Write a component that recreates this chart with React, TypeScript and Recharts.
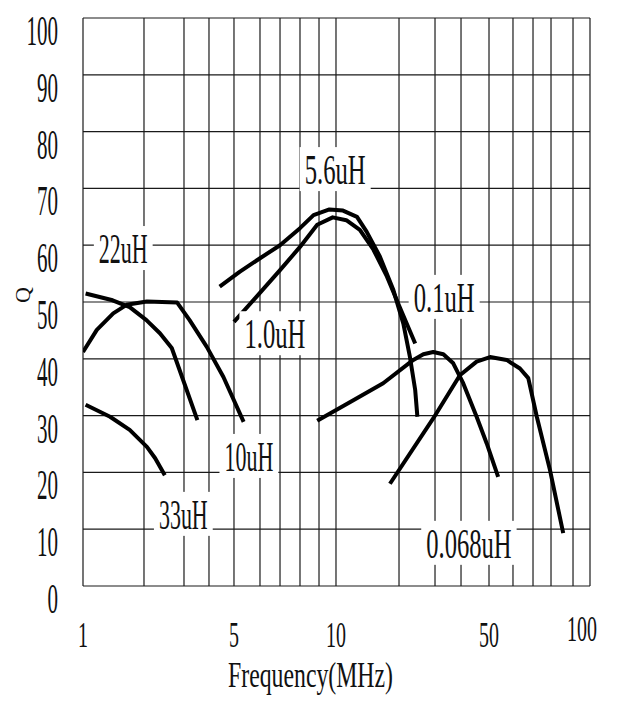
import React from 'react';
import { LineChart, Line, XAxis, YAxis, CartesianGrid, ReferenceDot } from 'recharts';

// frequency ruling of the chart paper (MHz) and the labelled ones
const FREQ_RULING = [1, 2, 3, 4, 5, 6, 7, 8, 9, 10, 20, 30, 40, 50, 60, 70, 80, 90, 100];
const FREQ_LABELS = [1, 5, 10, 50, 100];
const Q_TICKS = [0, 10, 20, 30, 40, 50, 60, 70, 80, 90, 100];

// where each ruling sits across the printed plot (0..1), the paper is not a true log grid
const RULING_AT = [0, 0.1203, 0.1992, 0.2485, 0.2978, 0.3491, 0.3886, 0.428, 0.4655, 0.499,
  0.6233, 0.6943, 0.7456, 0.8008, 0.8481, 0.8876, 0.9231, 0.9665, 1];

// Q vs frequency
const q33uH = [
  { f: 1.03, q: 31.9 }, { f: 1.36, q: 29.8 }, { f: 1.7, q: 27.5 }, { f: 2.06, q: 24.5 },
  { f: 2.24, q: 22.5 }, { f: 2.47, q: 19.5 },
];
const q22uH = [
  { f: 1.03, q: 51.5 }, { f: 1.4, q: 50.3 }, { f: 1.7, q: 49.1 }, { f: 2.05, q: 46.8 },
  { f: 2.35, q: 44.5 }, { f: 2.65, q: 41.9 }, { f: 2.9, q: 37.5 }, { f: 3.5, q: 29.2 },
];
const q10uH = [
  { f: 1.0, q: 41.2 }, { f: 1.17, q: 45.1 }, { f: 1.41, q: 48 }, { f: 1.64, q: 49.5 },
  { f: 2.06, q: 50.1 }, { f: 2.8, q: 49.9 }, { f: 3.2, q: 46.8 }, { f: 3.9, q: 42.1 },
  { f: 4.55, q: 36.8 }, { f: 5.35, q: 28.9 },
];
const q5_6uH = [
  { f: 4.4, q: 52.7 }, { f: 5.2, q: 55.3 }, { f: 6.0, q: 57.7 }, { f: 7.0, q: 60.0 },
  { f: 8.0, q: 63.0 }, { f: 8.7, q: 65.3 }, { f: 9.6, q: 66.3 }, { f: 10.8, q: 66.1 },
  { f: 12.6, q: 65.0 }, { f: 14.0, q: 62.4 }, { f: 16.2, q: 58.0 }, { f: 18.8, q: 52.1 },
  { f: 21.0, q: 46.2 }, { f: 22.6, q: 40.4 }, { f: 24.0, q: 34.5 }, { f: 24.6, q: 29.8 },
];
const q1_0uH = [
  { f: 5.0, q: 46.5 }, { f: 5.85, q: 50.9 }, { f: 7.0, q: 55.6 }, { f: 8.0, q: 59.7 },
  { f: 8.9, q: 63.6 }, { f: 9.8, q: 64.9 }, { f: 11.2, q: 64.4 }, { f: 13.0, q: 62.7 },
  { f: 15.1, q: 59.2 }, { f: 17.5, q: 54.5 }, { f: 20.1, q: 49.2 }, { f: 24.0, q: 42.7 },
];
const q0_1uH = [
  { f: 8.9, q: 29.1 }, { f: 11.7, q: 32.4 }, { f: 16.8, q: 35.7 }, { f: 23.5, q: 39.8 },
  { f: 26.3, q: 40.8 }, { f: 29.4, q: 41.2 }, { f: 32.9, q: 40.8 }, { f: 36.7, q: 39.2 },
  { f: 40.7, q: 35.7 }, { f: 45.3, q: 29.8 }, { f: 49.1, q: 25.1 }, { f: 53.6, q: 19.2 },
];
const q0_068uH = [
  { f: 18.1, q: 18.0 }, { f: 29.4, q: 29.5 }, { f: 39.5, q: 37.1 }, { f: 45.3, q: 39.5 },
  { f: 50.4, q: 40.3 }, { f: 57.2, q: 39.8 }, { f: 63.3, q: 38.3 }, { f: 67.5, q: 36.6 },
  { f: 72.0, q: 29.8 }, { f: 79.4, q: 20.4 }, { f: 85.4, q: 9.3 },
];

const SERIES = [q33uH, q22uH, q10uH, q5_6uH, q1_0uH, q0_1uH, q0_068uH];

// curve names and where they are written on the chart
const CURVE_LABELS = [
  { text: '22uH', f: 1.58, q: 59.5 },
  { text: '5.6uH', f: 9.95, q: 73.4 },
  { text: '1.0uH', f: 6.73, q: 44.5 },
  { text: '0.1uH', f: 33.2, q: 50.9 },
  { text: '10uH', f: 5.55, q: 22.9 },
  { text: '33uH', f: 2.98, q: 12.7 },
  { text: '0.068uH', f: 42.6, q: 7.6 },
];

const FONT = '"Liberation Serif", serif';

function rulingUnit(v: number) {
  const n = FREQ_RULING.length;
  if (v <= FREQ_RULING[0]) return 0;
  if (v >= FREQ_RULING[n - 1]) return 1;
  for (let i = 0; i < n - 1; i++) {
    if (v <= FREQ_RULING[i + 1]) {
      const t = Math.log(v / FREQ_RULING[i]) / Math.log(FREQ_RULING[i + 1] / FREQ_RULING[i]);
      return RULING_AT[i] + t * (RULING_AT[i + 1] - RULING_AT[i]);
    }
  }
  return 1;
}

function paperScale(): any {
  let dom = [1, 100];
  let rng = [0, 1];
  const s: any = (v: any) => rng[0] + (rng[1] - rng[0]) * rulingUnit(Number(v));
  s.domain = (d?: any[]) => {
    if (d === undefined) return dom.slice();
    dom = d.slice();
    return s;
  };
  s.range = (r?: any[]) => {
    if (r === undefined) return rng.slice();
    rng = r.slice();
    return s;
  };
  s.copy = () => paperScale().domain(dom).range(rng);
  s.ticks = () => FREQ_RULING.slice();
  s.invert = (px: number) => {
    const u = (px - rng[0]) / (rng[1] - rng[0]);
    for (let i = 0; i < RULING_AT.length - 1; i++) {
      if (u <= RULING_AT[i + 1]) {
        const t = (u - RULING_AT[i]) / (RULING_AT[i + 1] - RULING_AT[i]);
        return FREQ_RULING[i] * Math.pow(FREQ_RULING[i + 1] / FREQ_RULING[i], t);
      }
    }
    return 100;
  };
  return s;
}

const xScale = paperScale();

const YTick = (props: any) => {
  const { x, y, payload } = props;
  const s = String(payload.value);
  const w = s.length * 10.5;
  return (
    <text x={x - 17 - w} y={y + 27} fontSize={42} fontFamily={FONT} fill="#111"
      textLength={w} lengthAdjust="spacingAndGlyphs">
      {s}
    </text>
  );
};

const XTick = (props: any) => {
  const { x, y, payload } = props;
  if (!FREQ_LABELS.includes(payload.value)) return null;
  // the last label sits a little inside and higher on the paper
  const last = payload.value === FREQ_LABELS[FREQ_LABELS.length - 1];
  const tx = x - (last ? 8 : 0);
  const ty = y + (last ? 47 : 53);
  return (
    <text transform={`translate(${tx}, ${ty}) scale(0.57, 1)`} textAnchor="middle"
      fontSize={35} fontFamily={FONT} fill="#111">
      {payload.value}
    </text>
  );
};

const XTitle = (props: any) => {
  const { x, y, width } = props.viewBox;
  const w = 165;
  const cx = x + width / 2 - 26;
  return (
    <text x={cx - w / 2} y={y + 101} fontSize={36} fontFamily={FONT} fill="#111"
      textLength={w} lengthAdjust="spacingAndGlyphs">
      Frequency(MHz)
    </text>
  );
};

const YTitle = (props: any) => {
  const { x, y, height } = props.viewBox;
  const cx = x + 14;
  const cy = y + height / 2 - 7;
  return (
    <text x={cx} y={cy} fontSize={22} fontFamily={FONT} fill="#111" textAnchor="middle"
      dominantBaseline="central" transform={`rotate(-90, ${cx}, ${cy})`}>
      Q
    </text>
  );
};

const CurveName = (props: any) => {
  const { cx, cy, text } = props;
  const w = text.length * 12.2;
  return (
    <g>
      <rect x={cx - w / 2 - 5} y={cy - 22} width={w + 10} height={44} fill="#fff" />
      <text x={cx - w / 2} y={cy + 15} fontSize={43} fontFamily={FONT} fill="#111"
        textLength={w} lengthAdjust="spacingAndGlyphs">
        {text}
      </text>
    </g>
  );
};

export default function App() {
  return (
    <LineChart width={601} height={691} margin={{ top: 10, right: 19, left: 0, bottom: 0 }}>
      <CartesianGrid stroke="#1a1a1a" strokeWidth={1.2} horizontalValues={Q_TICKS}
        verticalValues={FREQ_RULING} />
      <XAxis type="number" dataKey="f" scale={xScale} domain={[1, 100]} ticks={FREQ_RULING}
        interval={0} allowDataOverflow height={113} axisLine={false} tickLine={false}
        tick={<XTick />} label={{ content: <XTitle /> }} />
      <YAxis type="number" dataKey="q" domain={[0, 100]} ticks={Q_TICKS} interval={0}
        width={75} axisLine={false} tickLine={false} tick={<YTick />}
        label={{ content: <YTitle /> }} />
      {CURVE_LABELS.map((l) => (
        <ReferenceDot key={l.text} x={l.f} y={l.q} r={0}
          shape={(p: any) => <CurveName cx={p.cx} cy={p.cy} text={l.text} />} />
      ))}
      {SERIES.map((d, i) => (
        <Line key={i} data={d} dataKey="q" type="linear" stroke="#000" strokeWidth={4}
          dot={false} activeDot={false} isAnimationActive={false} strokeLinejoin="round" />
      ))}
    </LineChart>
  );
}
